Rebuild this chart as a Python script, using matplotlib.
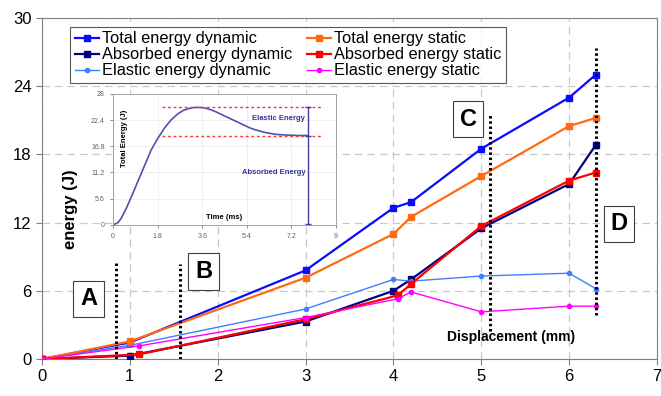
import numpy as np
import matplotlib.pyplot as plt

plt.rcParams['font.family'] = ['Liberation Sans', 'DejaVu Sans']

# main chart data (displacement mm, energy J)
x_dyn = [0, 1, 3, 4, 4.2, 5, 6, 6.3]
x_stat = [0, 1.1, 3, 4.05, 4.2, 5, 6, 6.3]
x_stat_total = [0, 1, 3, 4, 4.2, 5, 6, 6.3]
total_dyn = [0, 1.45, 7.8, 13.3, 13.8, 18.5, 23.0, 25.0]
total_stat = [0, 1.55, 7.15, 11.0, 12.5, 16.1, 20.5, 21.2]
absorbed_dyn = [0, 0.3, 3.3, 6.0, 7.0, 11.5, 15.4, 18.8]
absorbed_stat = [0, 0.4, 3.5, 5.6, 6.6, 11.7, 15.7, 16.4]
elastic_dyn = [0, 1.2, 4.4, 7.0, 6.85, 7.3, 7.55, 6.2]
elastic_stat = [0, 1.15, 3.65, 5.3, 5.9, 4.15, 4.65, 4.65]

# dotted region markers: x, y bottom, y top
region_x = [0.84, 1.57, 5.1, 6.31]
region_lo = [0, 0, 2.5, 3.9]
region_hi = [8.5, 8.4, 21.5, 27.4]
box_labels = ['A', 'B', 'C', 'D']
box_x = [0.53, 1.84, 4.85, 6.57]
box_y = [5.3, 7.7, 21.1, 11.9]

# inset curve (time ms, total energy J)
t_ms = [0, 0.2, 0.33, 0.54, 0.74, 0.94, 1.14, 1.34, 1.54, 1.81, 2.08, 2.34, 2.61,
        2.85, 3.09, 3.3, 3.49, 3.7, 3.9, 4.1, 4.3, 4.5, 4.7, 4.9, 5.1, 5.3, 5.5,
        5.7, 5.9, 6.1, 6.3, 6.5, 6.7, 7.0, 7.24, 7.5, 7.88]
e_tot = [0, 0.5, 1.4, 3.6, 6.0, 8.5, 11.0, 13.5, 16.0, 18.5, 20.7, 22.4, 23.7,
         24.5, 24.9, 25.1, 25.1, 25.0, 24.7, 24.3, 23.8, 23.3, 22.8, 22.3, 21.8,
         21.3, 20.8, 20.4, 20.1, 19.8, 19.6, 19.4, 19.3, 19.2, 19.15, 19.1, 19.1]
e_peak = 25.1
e_final = 19.1
t_end = 7.88

fig = plt.figure(figsize=(6.61, 3.96), dpi=100)
ax = fig.add_axes([0.0635, 0.0934, 0.9305, 0.8611])

ax.plot(x_dyn, total_dyn, '-s', color='#0a0aff', lw=1.6, ms=5, label='Total energy dynamic', zorder=5)
ax.plot(x_dyn, absorbed_dyn, '-s', color='#000080', lw=1.6, ms=5, label='Absorbed energy dynamic', zorder=5)
ax.plot(x_dyn, elastic_dyn, '-o', color='#3f7fff', lw=1.0, ms=3, label='Elastic energy dynamic', zorder=5)
ax.plot(x_stat_total, total_stat, '-s', color='#ff6a13', lw=1.6, ms=5, label='Total energy static', zorder=5)
ax.plot(x_stat, absorbed_stat, '-s', color='#ff0000', lw=1.6, ms=5, label='Absorbed energy static', zorder=5)
ax.plot(x_stat, elastic_stat, '-o', color='#ff00ff', lw=1.0, ms=3, label='Elastic energy static', zorder=6)

for xv, lo, hi in zip(region_x, region_lo, region_hi):
    ax.plot([xv, xv], [lo, hi], color='black', lw=2.2, linestyle=(0, (0.8, 0.9)), zorder=7)

for lab, bx, by in zip(box_labels, box_x, box_y):
    ax.text(bx, by, lab, fontsize=17, fontweight='bold', ha='center', va='center', zorder=8,
            bbox=dict(boxstyle='square,pad=0.28', fc='white', ec='#404040', lw=0.8))

ax.text(5.34, 1.97, 'Displacement (mm)', fontsize=10, fontweight='bold', ha='center', va='center')
ax.text(0.33, 13.2, 'energy (J)', fontsize=12, fontweight='bold', rotation=90, ha='center', va='center')

ax.set_xlim(0, 7)
ax.set_ylim(0, 30)
ax.set_xticks(range(0, 8))
ax.set_yticks(range(0, 31, 6))
ax.tick_params(labelsize=12, color='#808080', length=4)
ax.grid(True, color='#c8c8c8', linestyle=(0, (6, 4)), lw=0.9)
for s in ax.spines.values():
    s.set_color('#808080')

leg = ax.legend(ncol=2, loc='upper left', bbox_to_anchor=(0.045, 0.975), fontsize=11.8,
                frameon=True, fancybox=False, edgecolor='#303030', labelspacing=0.06,
                handlelength=1.5, handletextpad=0.15, columnspacing=0.9, borderpad=0.3,
                borderaxespad=0)
leg.get_frame().set_linewidth(0.8)
leg.set_zorder(9)

# inset
ins = fig.add_axes([0.171, 0.432, 0.337, 0.331])
ins.plot(t_ms, e_tot, color='#5050b0', lw=1.2)
ins.plot([1.96, 8.43], [e_peak, e_peak], color='#ff3030', lw=1, linestyle=(0, (2, 2)))
ins.plot([1.96, 8.43], [e_final, e_final], color='#ff3030', lw=1, linestyle=(0, (2, 2)))
ins.plot([t_end, t_end], [0.3, e_peak], color='#4040a0', lw=1)
ins.plot([t_end, t_end, t_end], [0.3, e_final, e_peak], '_', color='#4040a0', ms=4)
ins.text(6.7, 22.7, 'Elastic Energy', fontsize=5.5, fontweight='bold', color='#333399', ha='center', va='center')
ins.text(6.5, 11.2, 'Absorbed Energy', fontsize=5.5, fontweight='bold', color='#333399', ha='center', va='center')
ins.text(4.5, 1.6, 'Time (ms)', fontsize=5.5, fontweight='bold', ha='center', va='center')
ins.text(0.45, 18.5, 'Total Energy (J)', fontsize=5.5, fontweight='bold', rotation=90, ha='center', va='center')
ins.set_xlim(0, 9)
ins.set_ylim(0, 28)
ins.set_xticks([0, 1.8, 3.6, 5.4, 7.2, 9])
ins.set_xticklabels(['0', '1.8', '3.6', '5.4', '7.2', '9'])
ins.set_yticks([0, 5.6, 11.2, 16.8, 22.4, 28])
ins.set_yticklabels(['0', '5.6', '11.2', '16.8', '22.4', '28'])
ins.tick_params(labelsize=5, colors='#606060', length=2, width=0.5, pad=4)
ins.grid(True, color='#ececec', lw=0.6)
for s in ins.spines.values():
    s.set_color('#a0a0a0')
    s.set_linewidth(0.7)

fig.savefig('out.png', dpi=100)
